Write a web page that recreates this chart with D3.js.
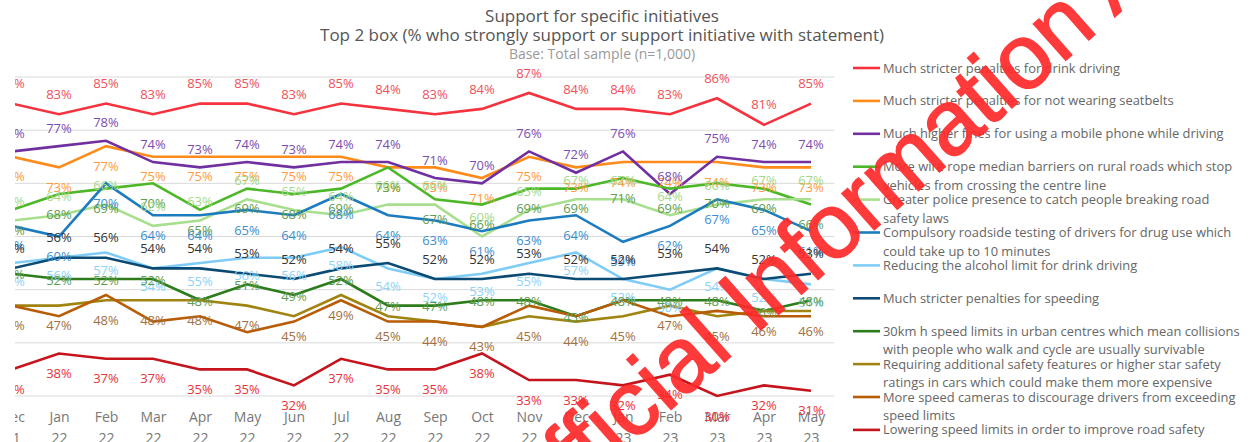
<!DOCTYPE html>
<html>
<head>
<meta charset="utf-8">
<script src="https://cdn.jsdelivr.net/npm/d3@7"></script>
<style>
  html, body { margin: 0; padding: 0; background: #fff; }
  svg { display: block; }
</style>
</head>
<body>
<svg id="chart" width="1254" height="442"></svg>
<script>
// ---------------- DATA ----------------
const categories = ["Dec 21","Jan 22","Feb 22","Mar 22","Apr 22","May 22","Jun 22","Jul 22","Aug 22","Sep 22","Oct 22","Nov 22","Dec 22","Jan 23","Feb 23","Mar 23","Apr 23","May 23"];
const monthLabels = ["Dec","Jan","Feb","Mar","Apr","May","Jun","Jul","Aug","Sep","Oct","Nov","Dec","Jan","Feb","Mar","Apr","May"];
const yearLabels = ["21","22","22","22","22","22","22","22","22","22","22","22","22","23","23","23","23","23"];
const yTicks = [30, 40, 50, 60, 70, 80, 90];

const drinkDriving      = [85,83,85,83,85,85,83,85,84,83,84,87,84,84,83,86,81,85];
const seatbelts         = [75,73,77,75,75,75,75,75,73,73,71,75,73,74,74,74,73,73];
const mobilePhone       = [76,77,78,74,73,74,73,74,74,71,70,76,72,76,68,75,74,74];
const wireRope          = [65,68,69,70,65,69,68,69,73,67,66,69,69,71,69,70,69,66];
const policePresence    = [63,64,66,62,63,67,65,64,66,66,60,65,67,67,64,66,67,67];
const drugTesting       = [62,60,70,64,64,65,64,68,64,63,61,63,64,59,62,67,65,61];
const alcoholLimit      = [55,56,57,54,55,56,56,58,54,52,53,55,57,52,50,54,52,51];
const speedingPenalties = [54,56,56,54,54,53,52,54,55,52,52,53,52,52,53,54,52,53];
const speed30           = [53,52,52,52,48,51,49,52,47,47,48,48,45,48,48,48,46,48];
const safetyFeatures    = [47,47,48,48,48,47,45,49,45,44,43,45,44,45,47,45,46,46];
const speedCameras      = [47,45,49,44,45,42,44,48,44,44,43,47,45,48,45,46,45,45];
const lowerLimits       = [35,38,37,37,35,35,32,37,35,35,38,33,33,32,34,30,32,31];

const seriesNames = [
  ["Much stricter penalties for drink driving"],
  ["Much stricter penalties for not wearing seatbelts"],
  ["Much higher fines for using a mobile phone while driving"],
  ["More wire rope median barriers on rural roads which stop", "vehicles from crossing the centre line"],
  ["Greater police presence to catch people breaking road", "safety laws"],
  ["Compulsory roadside testing of drivers for drug use which", "could take up to 10 minutes"],
  ["Reducing the alcohol limit for drink driving"],
  ["Much stricter penalties for speeding"],
  ["30km h speed limits in urban centres which mean collisions", "with people who walk and cycle are usually survivable"],
  ["Requiring additional safety features or higher star safety", "ratings in cars which could make them more expensive"],
  ["More speed cameras to discourage drivers from exceeding", "speed limits"],
  ["Lowering speed limits in order to improve road safety"]
];
const seriesValues = [drinkDriving, seatbelts, mobilePhone, wireRope, policePresence, drugTesting,
  alcoholLimit, speedingPenalties, speed30, safetyFeatures, speedCameras, lowerLimits];

// ---------------- STYLE ----------------
const lineColors  = ["#f5333f","#ff8b1a","#7030a0","#4cb828","#a8df8e","#1c7cbf","#7fcdf7","#0b4a72","#2c7c1c","#a08411","#b85c06","#c5141c"];
const labelColors = ["#f0505a","#ff9a3c","#7d4cb0","#5e9c4e","#a3d98a","#3d8ecf","#8dd3f7","#333333","#5e9c4e","#a37040", null,"#e8323c"];
const labelDy     = [-20, 20, -18, 20, -19, 20, 18, -20, 1, 20, 0, 20];

const W = 1254, H = 442;
const svg = d3.select("#chart");
const font = "'Open Sans', 'DejaVu Sans', sans-serif";

const x = d3.scalePoint().domain(categories).range([12, 811]);
const y = d3.scaleLinear().domain([30, 90]).range([396, 77]);

// titles
const titles = svg.append("g").attr("font-family", font).attr("text-anchor", "middle");
titles.append("text").attr("x", 602).attr("y", 22).attr("font-size", 17).attr("fill", "#555")
  .text("Support for specific initiatives");
titles.append("text").attr("x", 602).attr("y", 41).attr("font-size", 17).attr("fill", "#555")
  .text("Top 2 box (% who strongly support or support initiative with statement)");
titles.append("text").attr("x", 602).attr("y", 59).attr("font-size", 14).attr("fill", "#999")
  .text("Base: Total sample (n=1,000)");

// clip for plot region (reference is cropped at x=15)
svg.append("defs").append("clipPath").attr("id", "clipL")
  .append("rect").attr("x", 15).attr("y", 0).attr("width", W - 15).attr("height", H);

const plot = svg.append("g").attr("clip-path", "url(#clipL)");

// gridlines
const step = x.step();
plot.append("g").selectAll("line").data(yTicks).join("line")
  .attr("x1", x(categories[0]) - step / 2).attr("x2", x(categories[categories.length - 1]) + step / 2)
  .attr("y1", d => y(d)).attr("y2", d => y(d))
  .attr("stroke", "#d9d9d9").attr("stroke-width", 1);

// x axis
const axis = d3.axisBottom(x).tickSize(0).tickFormat(() => "");
const axG = plot.append("g").attr("transform", `translate(0,${y(30)})`).call(axis);
axG.select(".domain").remove();
axG.selectAll(".tick text").remove();
axG.selectAll(".tick").each(function(d, i) {
  const t = d3.select(this).append("text")
    .attr("text-anchor", "middle").attr("font-family", font).attr("font-size", 14).attr("fill", "#777");
  t.append("tspan").attr("x", 0).attr("y", 26).text(monthLabels[i]);
  t.append("tspan").attr("x", 0).attr("y", 47).text(yearLabels[i]);
});

// lines
const line = d3.line().x((d, i) => x(categories[i])).y(d => y(d));
plot.append("g").selectAll("path").data(seriesValues).join("path")
  .attr("d", d => line(d))
  .attr("fill", "none")
  .attr("stroke", (d, i) => lineColors[i])
  .attr("stroke-width", 2.6)
  .attr("stroke-linejoin", "miter");

// data labels
const labG = plot.append("g").attr("font-family", font).attr("font-size", 13).attr("text-anchor", "middle");
seriesValues.forEach((vals, s) => {
  if (!labelColors[s]) return;
  labG.append("g").selectAll("text").data(vals).join("text")
    .attr("x", (d, i) => x(categories[i]))
    .attr("y", d => y(d) + labelDy[s] + 4.6)
    .attr("fill", labelColors[s])
    .text(d => d + "%");
});

// legend
const legend = svg.append("g").attr("font-family", font).attr("font-size", 12.9).attr("fill", "#666");
seriesNames.forEach((lines, i) => {
  const ly = 68 + i * 32.9;
  legend.append("line").attr("x1", 853).attr("x2", 880).attr("y1", ly).attr("y2", ly)
    .attr("stroke", lineColors[i]).attr("stroke-width", 2.6);
  lines.forEach((t, j) => {
    legend.append("text").attr("x", 883).attr("y", ly + j * 18.5 + 4.5).text(t);
  });
});

// watermark
const wm = svg.append("g").attr("transform", "translate(632,444) rotate(-41.5)")
  .attr("font-family", "'Liberation Sans', Arial, sans-serif").attr("font-weight", "normal")
  .attr("font-size", 92).attr("fill", "#ff2a2a").attr("opacity", 0.92)
  .attr("stroke", "#ff2a2a").attr("stroke-width", 1.5);
wm.append("text").attr("text-anchor", "end").text("Released under the Offi");
wm.append("text").attr("text-anchor", "start").text("cial Information Act 1982");
</script>
</body>
</html>
